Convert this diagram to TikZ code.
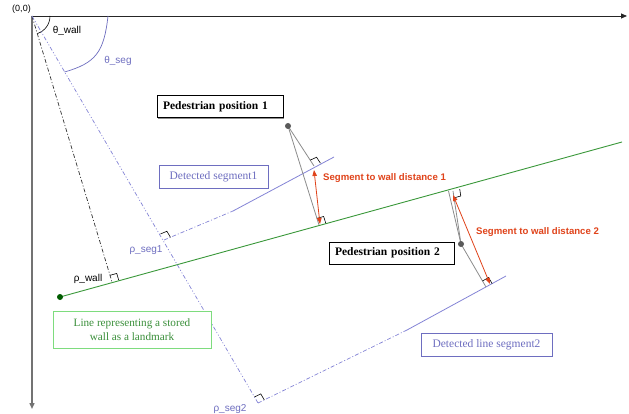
\documentclass[tikz,border=0pt]{standalone}
\usepackage{fontspec}
\setmainfont{Liberation Serif}
\setsansfont{Liberation Sans}
\usetikzlibrary{calc,arrows.meta,shadows}

\definecolor{segblue}{HTML}{6E6EC0}
\definecolor{seglight}{HTML}{8484D6}
\definecolor{wallgreen}{HTML}{3A983A}
\definecolor{boxgreen}{HTML}{7EDC7E}
\definecolor{textgreen}{HTML}{3A8F3A}
\definecolor{distred}{HTML}{E0431A}
\definecolor{pedgray}{HTML}{8C8C8C}
\definecolor{dotgray}{HTML}{5A5A5A}

\tikzset{
  axis/.style={line width=0.8pt, -{Triangle[length=6pt,width=5pt]}},
  rmark/.style={black, line width=0.6pt},
  lbl/.style={font=\sffamily\fontsize{10}{12}\selectfont, inner sep=0pt},
  distlbl/.style={font=\sffamily\bfseries\fontsize{9.6}{12}\selectfont, text=distred, inner sep=0pt, anchor=west},
  pedbox/.style={draw=black, line width=0.6pt, fill=white,
    drop shadow={shadow xshift=1.2pt, shadow yshift=-1.2pt, fill=black!45, opacity=1},
    font=\bfseries\fontsize{11.5}{13}\selectfont, inner xsep=6pt, align=left,
    minimum height=22pt},
  segbox/.style={draw=segblue, line width=0.7pt, fill=white,
    drop shadow={shadow xshift=0.8pt, shadow yshift=-0.8pt, fill=segblue!40, opacity=1},
    text=segblue, font=\fontsize{11.5}{13}\selectfont, inner sep=0pt,
    minimum height=23pt},
  wallbox/.style={draw=boxgreen, line width=1pt, fill=white, text=textgreen,
    font=\fontsize{11.2}{14}\selectfont, align=center, inner sep=0pt,
    minimum width=158pt, minimum height=37pt},
  pedline/.style={pedgray, line width=0.8pt},
  distarrow/.style={distred, line width=0.8pt,
    {Triangle[length=6pt,width=4.5pt]}-{Triangle[length=6pt,width=4.5pt]}},
  segrho/.style={seglight, line width=0.7pt,
    dash pattern=on 4pt off 2pt on 1pt off 2pt on 1pt off 2pt},
  segext/.style={seglight, line width=0.7pt,
    dash pattern=on 4pt off 2pt on 1pt off 2pt},
  segsolid/.style={seglight, line width=0.8pt},
}

% right-angle mark at foot #1, legs towards #2 and #3
\newcommand\rtmark[3]{%
  \draw[rmark] ($(#1)!7pt!(#2)$) -- ($(#1)!7pt!(#2)+(#1)!7pt!(#3)-(#1)$) -- ($(#1)!7pt!(#3)$);}

\begin{document}
\begin{tikzpicture}[x=1pt,y=-1pt]
\useasboundingbox[fill=white] (0,0) rectangle (629,414);

% origin and axes
\coordinate (O) at (32,16);
\coordinate (X) at (627,16);
\coordinate (Y) at (32,409);
\draw[axis, black!85] (O) -- (X);
\draw[axis, black!55, line width=1.4pt] (O) -- (Y);
\node[lbl, font=\sffamily\fontsize{9}{11}\selectfont] (orig) at (21.5,9) {(0,0)};

% wall line
\coordinate (W0) at (60,297);
\coordinate (W1) at (622,142);
\draw[wallgreen, line width=0.9pt] (W0) -- (W1);
\fill[black!20!green!45!black] (W0) circle (3pt);

% normal of the wall
\coordinate (Fw) at (112,282);
\draw[black!80, line width=0.7pt, dash pattern=on 4pt off 2pt on 1pt off 2pt] (O) -- (Fw);
\rtmark{Fw}{W1}{O}
\node[lbl] (rhowall) at (88,279) {ρ\_wall};
\draw[black, line width=0.6pt] (50,16) .. controls (50,24) and (45,31) .. (37.5,33.5);
\node[lbl] (thwall) at (67,31) {θ\_wall};

% normal of the detected segments
\coordinate (F1) at (164,240);
\coordinate (F2) at (258,403);
\draw[segrho] (O) -- (F2);
\draw[segblue, line width=0.7pt] (108,16) .. controls (104,52) and (96,63) .. (64.5,72);
\node[lbl, text=segblue] (thseg) at (118,61) {θ\_seg};

% detected segment 1
\coordinate (S1a) at (233,211);
\coordinate (S1b) at (334,157);
\draw[segext] (F1) -- (S1a);
\draw[segsolid] (S1a) -- (S1b);
\rtmark{F1}{S1a}{O}
\node[lbl, text=segblue] (rhoseg1) at (146,250) {ρ\_seg1};

% detected segment 2
\coordinate (S2a) at (407,330);
\coordinate (S2b) at (506,276);
\draw[segext] (F2) -- (S2a);
\draw[segsolid] (S2a) -- (S2b);
\rtmark{F2}{S2a}{O}
\node[lbl, text=segblue] (rhoseg2) at (230,409) {ρ\_seg2};

% pedestrian 1
\coordinate (P1) at (288,126);
\coordinate (Q1s) at (314,166);
\coordinate (Q1w) at (319,225);
\draw[pedline] (P1) -- (Q1s);
\draw[pedline] (P1) -- (Q1w);
\fill[dotgray] (P1) circle (3pt);
\rtmark{Q1s}{S1b}{P1}
\rtmark{Q1w}{W1}{P1}
\coordinate (R1a) at (314,170);
\coordinate (R1b) at (320,224);
\draw[distarrow] (R1a) -- (R1b);
\node[distlbl] (d1) at (323,178) {Segment to wall distance 1};

% pedestrian 2
\coordinate (P2) at (461,244);
\coordinate (Q2w) at (448.5,191);
\coordinate (Q2v) at (453,191);
\coordinate (Q2s) at (486,287);
\draw[pedline] (P2) -- (Q2w);
\draw[pedline] (P2) -- (Q2v);
\draw[pedline] (P2) -- (Q2s);
\fill[dotgray] (P2) circle (3pt);
\rtmark{Q2v}{W1}{P2}
\rtmark{Q2s}{S2b}{P2}
\coordinate (R2a) at (453,195);
\coordinate (R2b) at (490,284);
\draw[distarrow] (R2a) -- (R2b);
\node[distlbl] (d2) at (476,232) {Segment to wall distance 2};

% boxes
\node[pedbox, text width=114pt] (pp1) at (220,106.5) {Pedestrian position 1};
\node[pedbox, text width=113pt] (pp2) at (391.5,253) {Pedestrian position 2};
\node[segbox, minimum width=109pt] (ds1) at (213.5,176.5) {Detected segment1};
\node[segbox, minimum width=131pt] (ds2) at (486.5,344.5) {Detected line segment2};
\node[wallbox] (wl) at (132,329.5) {Line representing a stored\\wall as a landmark};
\end{tikzpicture}
\end{document}
